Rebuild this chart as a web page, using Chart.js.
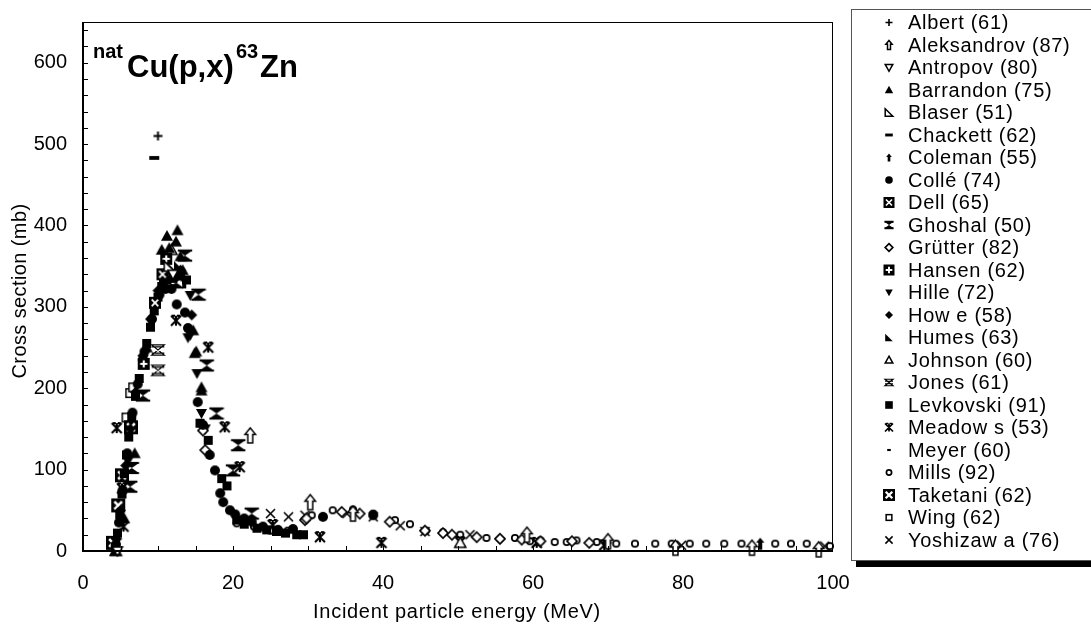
<!DOCTYPE html>
<html><head><meta charset="utf-8">
<script src="https://cdn.jsdelivr.net/npm/chart.js@4/dist/chart.umd.min.js"></script>
<style>html,body{margin:0;padding:0;background:#fff;}#wrap{width:1091px;height:630px;}</style>
</head><body><div id="wrap"><canvas id="c" width="1091" height="630"></canvas></div>
<script>
// ---- data: [energy MeV, cross section mb] ----
const albert = [[10.0,510]];
const aleksandrov = [[22.3,142],[30.3,60],[36.0,46],[59.2,20],[70.0,12],[79.0,4],[89.2,4],[98.1,2]];
const antropov = [[4.6,0],[12.0,340]];
const barrandon = [[4.3,0],[5.5,40],[6.9,120],[8.5,250],[10.5,370],[11.2,387],[11.5,372],[12.6,394],[12.4,380],[13.0,362],[13.3,345],[14.7,271],[14.9,243],[15.1,245],[15.8,201],[15.8,197]];
const blaser = [[11.5,350]];
const chackett = [[9.5,483]];
const coleman = [[13.5,330],[90.3,9]];
const colle = [[4.4,8],[4.8,35],[5.3,75],[5.9,120],[6.6,170],[7.3,205],[8.2,245],[9.2,285],[10.2,315],[11.0,322],[11.8,322],[12.5,303],[13.6,293],[14.0,274],[15.3,183],[16.0,155],[16.9,118],[17.6,99],[18.3,71],[18.7,60],[19.6,50],[20.3,45],[21.5,40],[22.5,36],[24.0,30],[26.0,26],[28.0,27],[32.0,42],[38.7,44]];
const dell = [[9.6,305],[10.6,340]];
const ghoshal = [[6.3,79],[6.5,102],[8.0,191],[11.0,330],[12.4,330],[13.6,363],[15.4,315],[16.5,228],[17.8,169],[20.0,99],[20.7,130],[22.5,46]];
const grutter = [[16.0,148],[16.3,124],[29.6,38],[29.8,40],[34.5,48],[36.9,46],[40.9,36],[45.6,25],[48.0,22],[49.2,20],[52.5,17],[55.6,15],[58.5,14],[61.0,12],[65.2,12],[67.5,10]];
const hansen = [[8.1,230],[11.1,359]];
const hille = [[6.0,110],[8.0,230],[11.0,340],[12.5,340],[14.3,314],[14.3,265],[14.0,262],[15.2,218],[15.8,169],[16.3,150]];
const howe = [[4.5,15],[5.0,50],[5.7,105],[6.3,150],[7.0,195],[8.0,240],[9.0,285],[10.0,320],[11.5,345],[13.0,345],[14.5,290],[45.6,25],[55.6,15],[69.8,10]];
const humes = [[10.8,335],[12.8,350]];
const johnson = [[4.4,0],[11.8,370],[50.3,10]];
const jones = [[10.0,247],[10.0,222]];
const levkovski = [[4.3,5],[4.6,22],[4.9,45],[5.2,70],[5.5,95],[5.8,118],[6.1,140],[6.5,165],[7.0,190],[7.5,212],[8.0,235],[8.5,255],[9.0,275],[9.5,295],[10.0,312],[10.5,325],[11.2,333],[12.0,335],[13.0,338],[13.8,333],[15.6,157],[16.7,136],[18.5,89],[19.2,80],[20.5,38],[21.5,33],[23.2,28],[24.5,26],[25.8,24],[27.0,22],[28.5,20],[29.4,20]];
const meadows = [[4.5,151],[5.2,77],[5.4,30],[12.4,283],[16.7,250],[18.9,152],[20.9,103],[25.3,32],[31.6,17],[39.8,10],[50.3,11],[60.5,10],[69.5,7]];
const meyer = [[9.8,305]];
const mills = [[20.5,34],[22.8,30],[25.0,25],[27.3,25],[30.5,44],[33.3,50],[36.0,51],[38.7,46],[41.6,38],[43.6,33],[45.7,25],[48.0,23],[50.3,20],[53.8,16],[57.6,16],[59.6,12],[61.0,13],[62.9,11],[64.5,11],[65.8,13],[68.5,11],[71.1,9],[73.6,9],[76.3,9],[78.5,9],[80.9,9],[83.1,9],[85.5,9],[87.8,9],[92.3,9],[94.4,9],[96.5,9],[99.6,6]];
const taketani = [[4.0,10],[4.7,56],[5.2,93],[6.4,152]];
const wing = [[5.8,164],[6.3,194],[6.7,201]];
const yoshizawa = [[25.0,46],[27.4,42],[29.6,44],[35.2,46],[38.7,42],[42.3,31],[45.6,24],[51.6,20],[60.5,10],[79.8,7],[98.9,6]];

const seriesNames = ['Albert (61)','Aleksandrov (87)','Antropov (80)','Barrandon (75)','Blaser (51)','Chackett (62)','Coleman (55)','Collé (74)','Dell (65)','Ghoshal (50)','Grütter (82)','Hansen (62)','Hille (72)','How e (58)','Humes (63)','Johnson (60)','Jones (61)','Levkovski (91)','Meadow s (53)','Meyer (60)','Mills (92)','Taketani (62)','Wing (62)','Yoshizaw a (76)'];
const seriesData = [albert,aleksandrov,antropov,barrandon,blaser,chackett,coleman,colle,dell,ghoshal,grutter,hansen,hille,howe,humes,johnson,jones,levkovski,meadows,meyer,mills,taketani,wing,yoshizawa];
const xTickLabels = [0,20,40,60,80,100];
const yTickLabels = [0,100,200,300,400,500,600];

// ---- marker styles ----
const kinds = ['plus','arrowO','triDownO','triUpF','rtO','dash','arrowF','circF','boxX','hourF','diaO','boxPlus','triDownF','diaF','rtF','triUpO','hourO','sqF','star','smallRect','circO','boxXB','sqO','x'];
const plotR = [4.5,7.5,5,6,5,5,6,5,6,6,5,6,5.5,5.5,5,5.5,6,4.5,5,4,4,7,5,4.5];
const legR  = [3.5,4.5,3.8,4.2,3.8,3.8,4,3.8,5.5,3.8,3.8,5.5,3.8,4,3.8,3.8,3.8,3.8,4,3,3.4,6,3.6,3.6];

function mk(c, kind, x, y, r){
  c.save(); c.strokeStyle='#000'; c.fillStyle='#000'; c.lineJoin='miter';
  const poly = (pts)=>{c.beginPath(); c.moveTo(pts[0][0],pts[0][1]); for(let i=1;i<pts.length;i++) c.lineTo(pts[i][0],pts[i][1]); c.closePath();};
  const hollow = ()=>{c.fillStyle='#fff'; c.fill(); c.lineWidth=1.5; c.stroke();};
  switch(kind){
    case 'plus': c.lineWidth=Math.max(1.6,r*0.42); c.beginPath(); c.moveTo(x-r,y); c.lineTo(x+r,y); c.moveTo(x,y-r); c.lineTo(x,y+r); c.stroke(); break;
    case 'arrowO': case 'arrowF': { const w=r*0.7, bw=r*0.33, hy=y-r*0.15;
      poly([[x,y-r],[x+w,hy],[x+bw,hy],[x+bw,y+r],[x-bw,y+r],[x-bw,hy],[x-w,hy]]);
      if(kind==='arrowO') hollow(); else c.fill(); break; }
    case 'triDownO': poly([[x-r,y-r*0.8],[x+r,y-r*0.8],[x,y+r]]); hollow(); break;
    case 'triDownF': poly([[x-r,y-r*0.8],[x+r,y-r*0.8],[x,y+r]]); c.fill(); break;
    case 'triUpF': poly([[x,y-r],[x+r,y+r*0.8],[x-r,y+r*0.8]]); c.fill(); break;
    case 'triUpO': poly([[x,y-r],[x+r,y+r*0.8],[x-r,y+r*0.8]]); hollow(); break;
    case 'rtO': poly([[x-r,y-r],[x+r,y+r],[x-r,y+r]]); hollow(); break;
    case 'rtF': poly([[x-r,y-r],[x+r,y+r],[x-r,y+r]]); c.fill(); break;
    case 'dash': c.fillRect(x-r,y-r*0.38,2*r,r*0.76); break;
    case 'smallRect': c.fillRect(x-r*0.6,y-r*0.35,r*1.2,r*0.7); break;
    case 'circF': c.beginPath(); c.arc(x,y,r,0,Math.PI*2); c.fill(); break;
    case 'circO': c.beginPath(); c.arc(x,y,r-0.8,0,Math.PI*2); c.fillStyle='#fff'; c.fill(); c.lineWidth=1.7; c.stroke(); break;
    case 'boxX': case 'boxXB': { c.fillRect(x-r,y-r,2*r,2*r); const q=r*0.55; c.strokeStyle='#fff'; c.lineWidth= kind==='boxXB'? r*0.38 : r*0.3;
      c.beginPath(); c.moveTo(x-q,y-q); c.lineTo(x+q,y+q); c.moveTo(x+q,y-q); c.lineTo(x-q,y+q); c.stroke(); break; }
    case 'boxPlus': { c.fillRect(x-r,y-r,2*r,2*r); const q=r*0.6; c.strokeStyle='#fff'; c.lineWidth=r*0.35;
      c.beginPath(); c.moveTo(x-q,y); c.lineTo(x+q,y); c.moveTo(x,y-q); c.lineTo(x,y+q); c.stroke(); break; }
    case 'hourF': { const w=r*1.2, h=r*0.85; poly([[x-w,y-h],[x+w,y-h],[x,y],[x+w,y+h],[x-w,y+h],[x,y]]); c.fill();
      c.fillRect(x-w,y-h-1,2*w,2); c.fillRect(x-w,y+h-1,2*w,2); break; }
    case 'hourO': { const w=r*1.05, h=r*0.85; c.lineWidth=1.2; c.beginPath(); c.moveTo(x-w,y-h); c.lineTo(x+w,y-h); c.lineTo(x-w,y+h); c.lineTo(x+w,y+h); c.closePath();
      c.moveTo(x-w,y-h+2); c.lineTo(x+w,y-h+2); c.moveTo(x-w,y+h-2); c.lineTo(x+w,y+h-2); c.stroke(); break; }
    case 'diaO': poly([[x,y-r],[x+r,y],[x,y+r],[x-r,y]]); c.fillStyle='#fff'; c.fill(); c.lineWidth=1.7; c.stroke(); break;
    case 'diaF': poly([[x,y-r],[x+r,y],[x,y+r],[x-r,y]]); c.fill(); break;
    case 'sqF': c.fillRect(x-r,y-r,2*r,2*r); break;
    case 'sqO': c.fillStyle='#fff'; c.fillRect(x-r,y-r,2*r,2*r); c.lineWidth=1.5; c.strokeRect(x-r+0.75,y-r+0.75,2*r-1.5,2*r-1.5); break;
    case 'star': c.lineWidth=Math.max(1.6,r*0.42); c.beginPath(); c.moveTo(x-r,y-r); c.lineTo(x+r,y+r); c.moveTo(x+r,y-r); c.lineTo(x-r,y+r); c.moveTo(x,y-r); c.lineTo(x,y+r);
      c.moveTo(x-r*0.8,y-r); c.lineTo(x-r*0.2,y-r); c.moveTo(x+r*0.2,y-r); c.lineTo(x+r*0.8,y-r); c.stroke(); break;
    case 'x': c.lineWidth=Math.max(1.5,r*0.36); c.beginPath(); c.moveTo(x-r,y-r); c.lineTo(x+r,y+r); c.moveTo(x+r,y-r); c.lineTo(x-r,y+r); c.stroke(); break;
  }
  c.restore();
}
function makeImg(kind, r){
  const s = Math.ceil(2*r+4); const cv=document.createElement('canvas'); cv.width=s; cv.height=s;
  mk(cv.getContext('2d'), kind, s/2, s/2, r); return cv;
}

const FONT = '"Liberation Sans", Arial, Helvetica, sans-serif';
const datasets = seriesData.map((d,i)=>({
  label: seriesNames[i],
  data: d.map(p=>({x:p[0], y:p[1]})),
  pointStyle: makeImg(kinds[i], plotR[i]),
  pointRadius: plotR[i], showLine:false, clip:false
}));

const deco = {
  id:'deco',
  afterDraw(chart){
    const c=chart.ctx, a=chart.chartArea, xs=chart.scales.x, ys=chart.scales.y;
    c.save();
    c.strokeStyle='#000';
    c.lineWidth=1; c.strokeRect(a.left+0.5,a.top+0.5,a.right-a.left-1,a.bottom-a.top);
    c.lineWidth=2; c.beginPath(); c.moveTo(a.left,a.top); c.lineTo(a.left,a.bottom); c.lineTo(a.right,a.bottom); c.stroke();
    c.lineWidth=1; c.beginPath();
    for(let v=20; v<=640; v+=20){ const py=Math.round(ys.getPixelForValue(v))+0.5; c.moveTo(a.left,py); c.lineTo(a.left+5,py); }
    for(let v=5; v<100; v+=5){ const px=Math.round(xs.getPixelForValue(v))+0.5; c.moveTo(px,a.bottom); c.lineTo(px,a.bottom-5); }
    c.stroke();
    // title
    c.fillStyle='#000'; c.textBaseline='alphabetic'; c.textAlign='left';
    c.font='bold 20px '+FONT; c.fillText('nat',93,58);
    c.font='bold 31px '+FONT; c.fillText('Cu(p,x)',127,77);
    c.font='bold 20px '+FONT; c.fillText('63',236,58);
    c.font='bold 31px '+FONT; c.fillText('Zn',260,77);
    // axis titles
    c.font='20px '+FONT; c.textAlign='center'; c.textBaseline='middle';
    try{ c.letterSpacing='0.7px'; }catch(e){}
    c.fillText('Incident particle energy (MeV)',457,612);
    c.save(); c.translate(20,291); c.rotate(-Math.PI/2);
    try{ c.letterSpacing='0.4px'; }catch(e){}
    c.fillText('Cross section (mb)',0,0); c.restore();
    // legend
    c.fillStyle='#000'; c.fillRect(856,561,240,6);
    c.fillStyle='#fff'; c.fillRect(852,10,240,551);
    c.strokeStyle='#555'; c.lineWidth=1; c.strokeRect(851.5,9.5,260,551);
    c.textAlign='left'; c.textBaseline='middle'; c.fillStyle='#000';
    try{ c.letterSpacing='0.7px'; }catch(e){}
    for(let i=0;i<seriesNames.length;i++){
      const y=22.5+i*22.5;
      mk(c, kinds[i], 889, y, legR[i]);
      c.fillStyle='#000'; c.font='20px '+FONT;
      c.fillText(seriesNames[i],908,y+1);
    }
    c.restore();
  }
};

new Chart(document.getElementById('c'), {
  type:'scatter',
  data:{datasets},
  options:{
    responsive:false, animation:false, devicePixelRatio:1,
    layout:{padding:{left:0,top:22,right:258,bottom:0}},
    plugins:{legend:{display:false}, tooltip:{enabled:false}, title:{display:false}},
    scales:{
      x:{type:'linear', min:0, max:100,
        afterBuildTicks(s){ s.ticks = xTickLabels.map(v=>({value:v})); },
        afterFit(s){ s.height=79; s.paddingLeft=0; s.paddingRight=0; },
        ticks:{font:{size:20,family:FONT}, color:'#000', padding:20, maxRotation:0, autoSkip:false},
        grid:{display:false, drawTicks:false, tickLength:0}, border:{display:false}},
      y:{type:'linear', min:0, max:650,
        afterBuildTicks(s){ s.ticks = yTickLabels.map(v=>({value:v})); },
        afterFit(s){ s.width=83; s.paddingTop=0; s.paddingBottom=0; },
        ticks:{font:{size:20,family:FONT}, color:'#000', padding:16, autoSkip:false},
        grid:{display:false, drawTicks:false, tickLength:0}, border:{display:false}}
    }
  },
  plugins:[deco]
});
</script></body></html>
